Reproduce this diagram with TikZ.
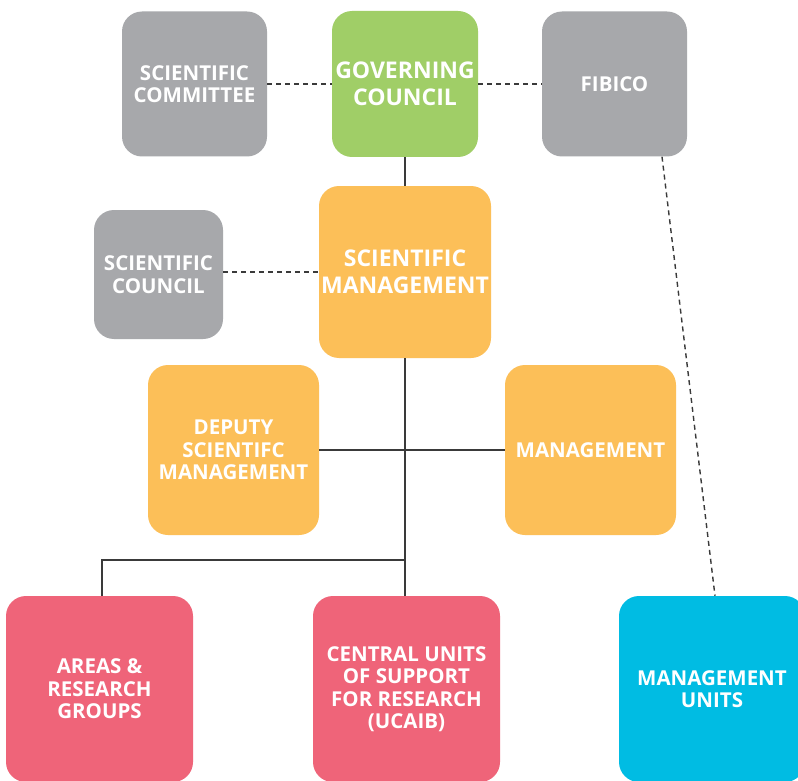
\documentclass[tikz,border=0pt]{standalone}
\usepackage{fontspec}
\setmainfont{Open Sans}
\usetikzlibrary{calc}
\definecolor{cgrey}{HTML}{A7A8AB}
\definecolor{cgreen}{HTML}{A0CE67}
\definecolor{corange}{HTML}{FCBF58}
\definecolor{cpink}{HTML}{EF6479}
\definecolor{ccyan}{HTML}{00BCE3}
\definecolor{cline}{HTML}{3A3A3A}
\tikzset{
  box/.style={rounded corners=20pt, inner sep=0pt, align=center, text=white,
    font=\bfseries\fontsize{20.5}{22.5}\selectfont},
  bigtext/.style={font=\bfseries\fontsize{23}{26.5}\selectfont},
  solidline/.style={draw=cline, line width=1.4pt},
  dashline/.style={draw=cline, line width=1.4pt, dash pattern=on 5pt off 4pt},
}
\begin{document}
\begin{tikzpicture}[x=1pt,y=-1pt]
\useasboundingbox (0,0) rectangle (798,781);
\clip (0,0) rectangle (798,781);
\fill[white] (0,0) rectangle (798,781);
% boxes
\node[box, fill=cgrey, minimum width=145pt, minimum height=145pt] (sc) at (194.5,84) {SCIENTIFIC\\COMMITTEE};
\node[box, bigtext, fill=cgreen, minimum width=146pt, minimum height=146pt] (gc) at (405,84) {GOVERNING\\COUNCIL};
\node[box, fill=cgrey, minimum width=145pt, minimum height=145pt] (fib) at (614.5,84) {FIBICO};
\node[box, fill=cgrey, minimum width=129pt, minimum height=129pt] (scc) at (158.5,274.5) {SCIENTIFIC\\COUNCIL};
\node[box, bigtext, fill=corange, minimum width=172pt, minimum height=172pt] (sm) at (405,272) {SCIENTIFIC\\MANAGEMENT};
\node[box, fill=corange, minimum width=171pt, minimum height=170pt] (dsm) at (233.5,450) {DEPUTY\\SCIENTIFC\\MANAGEMENT};
\node[box, fill=corange, minimum width=171pt, minimum height=170pt] (mg) at (590.5,450) {MANAGEMENT};
\node[box, fill=cpink, minimum width=187pt, minimum height=186pt] (ar) at (99.5,689) {AREAS \&\\RESEARCH\\GROUPS};
\node[box, fill=cpink, minimum width=187pt, minimum height=186pt] (cu) at (406.5,689) {CENTRAL UNITS\\OF SUPPORT\\FOR RESEARCH\\(UCAIB)};
\node[box, fill=ccyan, minimum width=186pt, minimum height=186pt] (mu) at (712,689) {MANAGEMENT\\UNITS};
% connectors
\coordinate (jn) at (405,560);
\draw[dashline] (sc.east) -- (gc.west);
\draw[dashline] (gc.east) -- (fib.west);
\draw[dashline] (scc.east |- sm.west) -- (sm.west);
\draw[dashline] ($(fib.south)+(47.5,0)$) -- ($(mu.north)+(3,0)$);
\draw[solidline] (gc.south) -- (sm.north);
\draw[solidline] (dsm.east) -- (mg.west);
\draw[solidline] (sm.south) -- (jn) -- (jn |- cu.north);
\draw[solidline] (jn) -| (ar.north -| 102,0);
\end{tikzpicture}
\end{document}
